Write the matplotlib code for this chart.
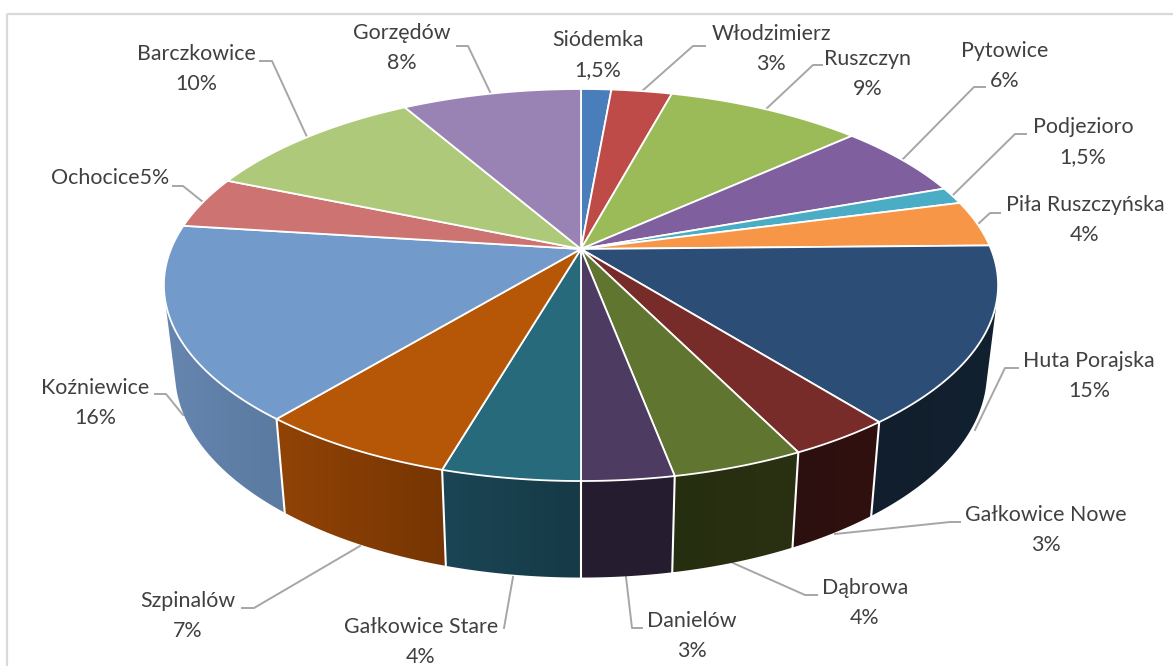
import numpy as np
import matplotlib
matplotlib.use("Agg")
import matplotlib.pyplot as plt
from matplotlib.colors import to_rgb
from matplotlib.patches import Polygon, Rectangle

# ---- data, clockwise from 12 o'clock ----
labels = ["Siódemka\n1,5%", "Włodzimierz\n3%", "Ruszczyn\n9%", "Pytowice\n6%",
          "Podjezioro\n1,5%", "Piła Ruszczyńska\n4%", "Huta Porajska\n15%",
          "Gałkowice Nowe\n3%", "Dąbrowa\n4%", "Danielów\n3%", "Gałkowice Stare\n4%",
          "Szpinalów\n7%", "Koźniewice\n16%", "Ochocice5%", "Barczkowice\n10%", "Gorzędów\n8%"]
# slice sizes (the printed labels are rounded)
shares = [1.4, 2.8, 9.1, 6.2, 1.4, 3.8, 14.6, 3.4, 4.3, 3.0, 4.5, 6.5, 16.0, 4.3, 10.4, 8.3]

top_colors = ["#4A7EBB", "#BE4B48", "#9BBB59", "#7F5F9D", "#4BACC6", "#F79646", "#2C4D75",
              "#772C2A", "#5F7530", "#4D3B62", "#276A7C", "#B65708", "#729ACA", "#CD7371",
              "#AFC97A", "#9983B5"]
# wall shading (left end, right end) for the slices facing us
wall_colors = {6: ("#111E2D", "#12212F"), 7: ("#2C0F0F", "#311110"), 8: ("#262E10", "#2A3112"),
               9: ("#261C31", "#261C2F"), 10: ("#1B4555", "#163A46"), 11: ("#914306", "#763502"),
               12: ("#6685B0", "#5A7AA0")}

# ---- layout, in picture pixels ----
label_pos = [(598, 55), (771, 49), (868, 74), (1005, 66), (1083, 142), (1085, 220), (1089, 376),
             (1046, 530), (865, 603), (692, 636), (421, 642), (188, 616), (95, 403), (110, 178),
             (196, 69), (402, 48)]
leaders = [None,
           [(641, 92), (693, 46), (705, 46)],
           [(765, 110), (813, 65), (822, 65)],
           [(902, 160), (974, 87), (985, 87)],
           [(952, 196), (1015, 134), (1026, 134)],
           [(977, 225), (990, 213), (1000, 213)],
           [(975, 430), (1005, 368), (1018, 368)],
           [(835, 534), (950, 522), (960, 522)],
           [(733, 563), (805, 595), (817, 595)],
           [(626, 577), (632, 628), (642, 628)],
           [(513, 577), (504, 628)],
           [(360, 546), (254, 608), (242, 608)],
           [(183, 415), (166, 394), (155, 394)],
           [(203, 202), (183, 186), (173, 186)],
           [(307, 137), (272, 61), (260, 61)],
           [(491, 94), (468, 46), (457, 46)]]


def top_xy(theta):
    # perspective view of the top disc
    d = 1 + 0.1837 * np.cos(theta)
    return 581 + 410 * np.sin(theta) / d, 249 - 189.4 * np.cos(theta) / d


def bottom_xy(theta):
    d = 1 + 0.1837 * np.cos(theta)
    return 581 + 399 * np.sin(theta) / d, 335 - 198 * np.cos(theta) / d


def hull(points):
    # convex outline, so the wall gets its straight tangent at the far left and right
    pts = sorted(map(tuple, points))

    def half(seq):
        out = []
        for p in seq:
            while len(out) > 1 and (out[-1][0] - out[-2][0]) * (p[1] - out[-2][1]) \
                    - (out[-1][1] - out[-2][1]) * (p[0] - out[-2][0]) <= 0:
                out.pop()
            out.append(p)
        return out[:-1]

    return np.array(half(pts) + half(pts[::-1]))


fig = plt.figure(figsize=(11.73, 6.66), dpi=100, facecolor="white")
ax = fig.add_axes([0, 0, 1, 1])
ax.axis("off")

ax.add_patch(Rectangle((7, 14), 1200, 700, fill=False, edgecolor="#D9D9D9", linewidth=1.6))

edges = np.cumsum([0] + shares) / np.sum(shares) * 2 * np.pi

# walls first, the top disc covers whatever is behind it
for i, (c0, c1) in wall_colors.items():
    t = np.linspace(edges[i], edges[i + 1], 60)
    xt, yt = top_xy(t)
    xb, yb = bottom_xy(t)
    outline = hull(np.column_stack([np.r_[xt, xb], np.r_[yt, yb]]))
    poly = Polygon(outline, facecolor="none", edgecolor="none", zorder=2)
    ax.add_patch(poly)
    # left to right shade, clipped to the wall outline
    shade = np.linspace(to_rgb(c0), to_rgb(c1), 64)[np.newaxis, :, :]
    ax.imshow(shade, extent=(outline[:, 0].min(), outline[:, 0].max(),
                             outline[:, 1].max(), outline[:, 1].min()),
              aspect="auto", interpolation="bilinear", clip_path=poly, zorder=2)

for i in wall_colors:
    if i > 6:
        xt, yt = top_xy(edges[i])
        xb, yb = bottom_xy(edges[i])
        ax.plot([xt, xb], [yt, yb], color="white", linewidth=1.5, zorder=3)

for i in range(len(shares)):
    t = np.linspace(edges[i], edges[i + 1], 80)
    x, y = top_xy(t)
    ax.add_patch(Polygon(np.column_stack([np.r_[581, x], np.r_[249, y]]), facecolor=top_colors[i],
                         edgecolor="white", linewidth=1.3, joinstyle="round", zorder=4))

for pts in leaders:
    if pts is not None:
        px, py = zip(*pts)
        ax.plot(px, py, color="#A6A6A6", linewidth=1.4, zorder=1)

for text, (x, y) in zip(labels, label_pos):
    ax.text(x, y, text, ha="center", va="center", fontsize=15.4, family="Lato",
            color="#404040", linespacing=1.62, zorder=5)

ax.set_xlim(0, 1173)
ax.set_ylim(666, 0)
fig.savefig("out.png", dpi=100)
